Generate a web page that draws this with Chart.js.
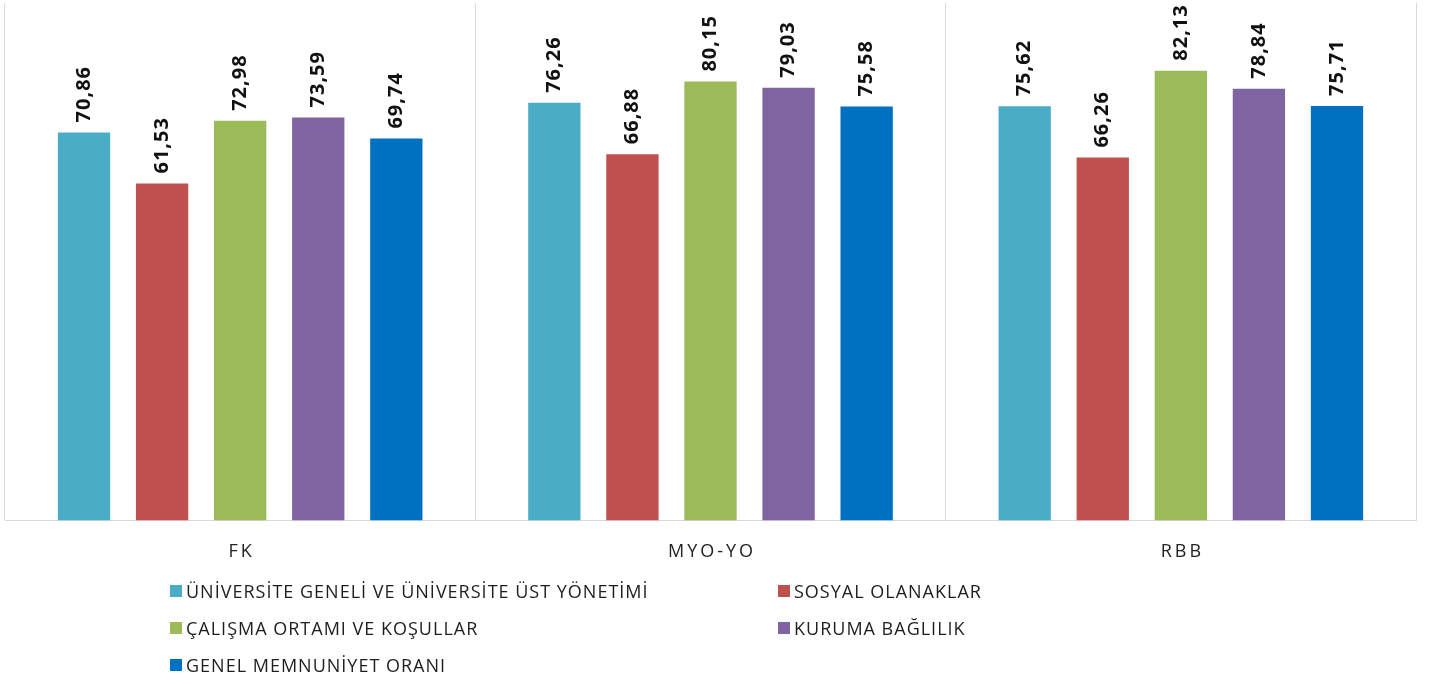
<!DOCTYPE html>
<html>
<head>
<meta charset="utf-8">
<script src="https://cdn.jsdelivr.net/npm/chart.js@4.4.1/dist/chart.umd.min.js"></script>
<style>
  body { margin: 0; background: #fff; font-family: "Open Sans", "Noto Sans", sans-serif; }
  #wrap { position: relative; width: 1441px; height: 584px; }
  #legend { position: absolute; left: 170px; top: 580px; display: grid; grid-template-columns: 608px 400px; row-gap: 15px; }
  .item { display: flex; align-items: center; font-size: 18px; letter-spacing: 1px; color: #1e1e1e; height: 22px; }
  .box { width: 12px; height: 12px; margin-right: 4px; }
</style>
</head>
<body>
<div id="wrap"><canvas id="grafico" width="1441" height="584"></canvas></div>
<div id="legend"></div>
<script>
const categorias = ['FK', 'MYO-YO', 'RBB']
const series = [
  'ÜNİVERSİTE GENELİ VE ÜNİVERSİTE ÜST YÖNETİMİ',
  'SOSYAL OLANAKLAR',
  'ÇALIŞMA ORTAMI VE KOŞULLAR',
  'KURUMA BAĞLILIK',
  'GENEL MEMNUNİYET ORANI'
]
const universite = [70.86, 76.26, 75.62]
const sosyal = [61.53, 66.88, 66.26]
const calisma = [72.98, 80.15, 82.13]
const kurum = [73.59, 79.03, 78.84]
const genel = [69.74, 75.58, 75.71]
const colores = ['#4bacc6', '#c0504d', '#9bbb59', '#8064a2', '#0070c0']

const valores = [universite, sosyal, calisma, kurum, genel]

// etiquetas de valor giradas encima de cada barra
const etiquetas = {
  id: 'etiquetas',
  afterDatasetsDraw(chart) {
    const ctx = chart.ctx
    ctx.save()
    ctx.font = 'bold 20px "Open Sans", sans-serif'
    ctx.letterSpacing = '1px'
    ctx.fillStyle = '#111'
    ctx.textAlign = 'left'
    ctx.textBaseline = 'middle'
    chart.data.datasets.forEach((ds, i) => {
      chart.getDatasetMeta(i).data.forEach((bar, j) => {
        const txt = ds.data[j].toFixed(2).replace('.', ',')
        ctx.save()
        ctx.translate(bar.x, bar.y - 10)
        ctx.rotate(-Math.PI / 2)
        ctx.fillText(txt, 0, 0)
        ctx.restore()
      })
    })
    ctx.restore()
  }
}

var ctx = document.getElementById('grafico')
var myChart = new Chart(ctx, {
  type: 'bar',
  data: {
    labels: categorias,
    datasets: series.map((s, i) => ({
      label: s,
      data: valores[i],
      backgroundColor: colores[i],
      barPercentage: 0.67,
      categoryPercentage: 0.83
    }))
  },
  options: {
    responsive: false,
    devicePixelRatio: 1,
    animation: false,
    layout: { padding: { left: 5, right: 25, top: 3, bottom: 0 } },
    plugins: { legend: { display: false }, tooltip: { enabled: false } },
    scales: {
      x: {
        grid: { offset: true, color: '#d9d9d9', lineWidth: 1, drawTicks: false },
        border: { color: '#d9d9d9' },
        ticks: {
          padding: 21,
          color: '#222',
          font: { family: '"Open Sans", sans-serif', size: 18 },
          callback: function (v, i) { return categorias[i].split('').join('\u2009') }
        }
      },
      y: { display: false, min: 0, max: 94.5 }
    }
  },
  plugins: [etiquetas]
})

const legend = document.getElementById('legend')
series.forEach((s, i) => {
  const d = document.createElement('div')
  d.className = 'item'
  d.innerHTML = '<span class="box" style="background:' + colores[i] + '"></span>' + s
  legend.appendChild(d)
})
</script>
</body>
</html>
